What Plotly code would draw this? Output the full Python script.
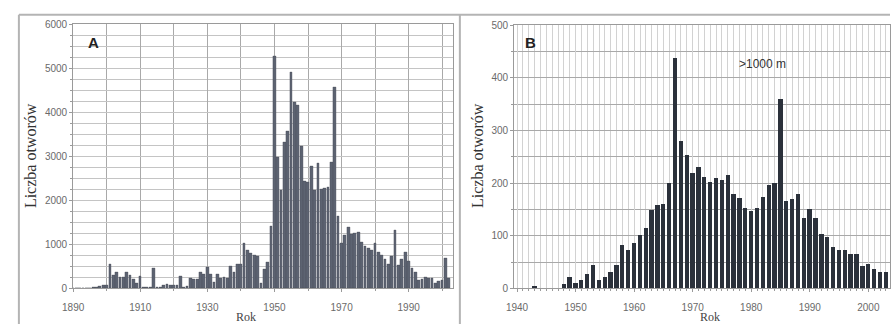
import plotly.graph_objects as go

# Panel A: number of boreholes drilled per year (all depths)
years_a = list(range(1890, 2003))
wells_a = [
    0, 0, 0, 0, 0, 10, 30, 20, 50, 65,            # 1890-1899
    80, 540, 300, 357, 248, 248, 357, 300, 212, 117,  # 1900-1909
    284, 30, 25, 20, 445, 30, 30, 60, 88, 65,      # 1910-1919
    65, 65, 284, 30, 40, 226, 197, 212, 372, 321,  # 1920-1929
    467, 321, 139, 321, 226, 240, 226, 510, 357, 540,  # 1930-1939
    540, 1028, 868, 795, 760, 737, 109, 437, 590, 1415,  # 1940-1949
    5280, 2983, 2217, 3311, 3567, 4916, 4238, 4150, 3224, 2436,  # 1950-1959
    2400, 2764, 2217, 2837, 2250, 2280, 2300, 2874, 4573, 1634,  # 1960-1969
    1014, 1196, 1378, 1232, 1247, 1269, 1050, 955, 904, 868,  # 1970-1979
    1014, 830, 758, 649, 540, 737, 1320, 518, 649, 830,  # 1980-1989
    613, 445, 372, 175, 211, 248, 226, 226, 124, 153,  # 1990-1999
    175, 685, 226,                                 # 2000-2002
]

# Panel B: boreholes deeper than 1000 m per year
years_b = list(range(1940, 2004))
wells_b = [
    0, 0, 0, 3, 0, 0, 0, 0, 8, 22,                 # 1940-1949
    10, 16, 27, 43, 16, 22, 30, 43, 82, 73,        # 1950-1959
    85, 100, 114, 148, 157, 159, 200, 438, 280, 253,  # 1960-1969
    219, 230, 211, 201, 209, 205, 215, 178, 172, 153,  # 1970-1979
    147, 153, 173, 196, 200, 360, 166, 169, 178, 134,  # 1980-1989
    150, 134, 103, 97, 79, 73, 73, 64, 65, 42,     # 1990-1999
    45, 36, 30, 30,                                # 2000-2003
]

tick_years_a = [1890, 1910, 1930, 1950, 1970, 1990]
tick_years_b = [1940, 1950, 1960, 1970, 1980, 1990, 2000]
tick_counts_a = [0, 1000, 2000, 3000, 4000, 5000, 6000]
tick_counts_b = [0, 100, 200, 300, 400, 500]

W, H = 891, 330


def fx(x):
    return x / W


def fy(y):
    return 1 - y / H


tick_font = dict(family="Liberation Sans", size=10, color="#6a6a6a")
title_font = dict(family="Liberation Serif", size=16, color="#333333")
grid = "#c4c4c4"
grid_dark = "#a9a9a9"
frame = "#9a9a9a"

fig = go.Figure()
fig.add_bar(
    x=years_a, y=wells_a, xaxis="x", yaxis="y", width=0.82,
    marker=dict(color="#5c6371", line=dict(color="#474c57", width=0.4)),
)
fig.add_bar(
    x=years_b, y=wells_b, xaxis="x2", yaxis="y2", width=0.74,
    marker=dict(color="#2b313b", line=dict(width=0)),
)

axis_style = dict(
    showline=True, linecolor=frame, linewidth=1, mirror=True,
    ticks="outside", ticklen=3, tickcolor=frame, tickfont=tick_font,
    showgrid=True, gridwidth=1, zeroline=False,
)

fig.update_layout(
    width=W, height=H,
    margin=dict(l=0, r=0, t=0, b=0),
    paper_bgcolor="white", plot_bgcolor="white",
    showlegend=False, bargap=0,
    xaxis=dict(
        axis_style, domain=[fx(63), fx(448)], range=[1890, 2003.2], anchor="y",
        tickmode="array", tickvals=tick_years_a, gridcolor=grid_dark,
        ticklabelstandoff=7,
        minor=dict(dtick=10, tick0=1890, showgrid=True, gridcolor=grid_dark,
                   ticks="outside", ticklen=2, tickcolor=frame),
    ),
    yaxis=dict(
        axis_style, domain=[fy(293), fy(19)], range=[0, 6000], anchor="x",
        tickmode="array", tickvals=tick_counts_a, gridcolor=grid,
        minor=dict(dtick=250, tick0=0, showgrid=True, gridcolor=grid,
                   ticks="outside", ticklen=2, tickcolor=frame),
    ),
    xaxis2=dict(
        axis_style, domain=[fx(510), 1.0], range=[1939.5, 2003.7], anchor="y2",
        tickmode="array", tickvals=tick_years_b, gridcolor="#d2d2d2",
        ticklabelstandoff=7,
        minor=dict(dtick=1, tick0=1940, showgrid=True, gridcolor="#d2d2d2",
                   ticks="outside", ticklen=2, tickcolor=frame),
    ),
    yaxis2=dict(
        axis_style, domain=[fy(293), fy(20)], range=[0, 500], anchor="x2",
        tickmode="array", tickvals=tick_counts_b, gridcolor=grid_dark,
        minor=dict(dtick=50, tick0=0, showgrid=True, gridcolor=grid_dark,
                   ticks="outside", ticklen=2, tickcolor=frame),
    ),
)

# Panel frames
fig.add_shape(type="line", xref="paper", yref="paper",
              x0=fx(8), x1=1.0, y0=fy(9), y1=fy(9),
              line=dict(color="#b4b4b4", width=2))
for xv in (8, 455):
    fig.add_shape(type="line", xref="paper", yref="paper",
                  x0=fx(xv), x1=fx(xv), y0=0, y1=fy(9),
                  line=dict(color="#b4b4b4", width=2))

# Axis titles and panel labels
ann = []
ann.append(dict(text="Liczba otworów", x=fx(20), y=fy(155), textangle=-90,
                font=title_font))
ann.append(dict(text="Liczba otworów", x=fx(473), y=fy(155), textangle=-90,
                font=title_font))
ann.append(dict(text="Rok", x=fx(238), y=fy(323),
                font=dict(family="Liberation Serif", size=12, color="#444444")))
ann.append(dict(text="Rok", x=fx(709), y=fy(323),
                font=dict(family="Liberation Serif", size=12, color="#444444")))
ann.append(dict(text="<b>A</b>", x=fx(84), y=fy(38),
                font=dict(family="Liberation Sans", size=15, color="#222222")))
ann.append(dict(text="<b>B</b>", x=fx(527), y=fy(38),
                font=dict(family="Liberation Sans", size=15, color="#222222")))
ann.append(dict(text=">1000 m", x=fx(762), y=fy(60),
                font=dict(family="Liberation Sans", size=12, color="#333333")))
for a in ann:
    a.update(xref="paper", yref="paper", showarrow=False,
             xanchor="center", yanchor="middle")
fig.update_layout(annotations=ann)

fig.write_html("out.html")
